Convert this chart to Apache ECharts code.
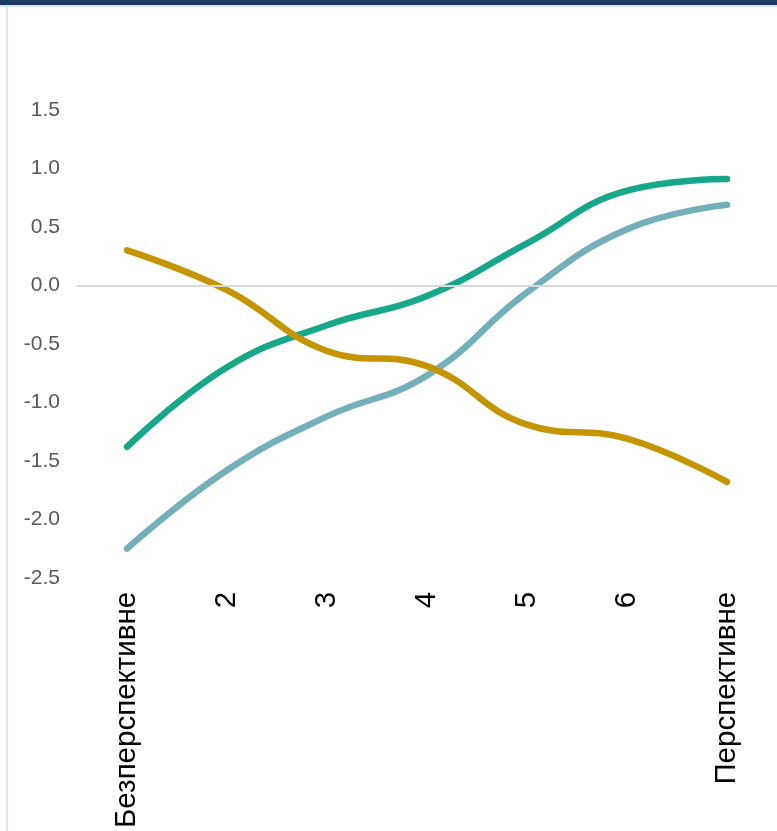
<!DOCTYPE html>
<html>
<head>
<meta charset="utf-8">
<script src="https://cdn.jsdelivr.net/npm/echarts@6/dist/echarts.min.js"></script>
<style>
  html, body { margin: 0; padding: 0; background: #fff; }
  #wrap { position: relative; width: 777px; height: 831px; overflow: hidden; }
  #topbar { position: absolute; left: 0; top: 0; width: 777px; height: 5px; background: #1f3864; border-bottom: 2px solid #d6e1f2; }
  #leftline { position: absolute; left: 6px; top: 7px; width: 2px; height: 824px; background: #dbe4f3; }
  #chart { position: absolute; left: 0; top: 0; width: 777px; height: 831px; }
</style>
</head>
<body>
<div id="wrap">
  <div id="chart"></div>
  <div id="topbar"></div>
  <div id="leftline"></div>
</div>
<script>
// категорії
const categories = ["Безперспективне", "2", "3", "4", "5", "6", "Перспективне"];

// значення рядів
const greenValues = [-1.38, -0.70, -0.34, -0.09, 0.36, 0.81, 0.91];
const tealValues = [-2.25, -1.58, -1.12, -0.77, -0.06, 0.48, 0.69];
const goldValues = [0.30, -0.04, -0.56, -0.69, -1.19, -1.31, -1.68];

const chart = echarts.init(document.getElementById("chart"));

function lineSeries(name, data, color) {
  return {
    name: name,
    type: "line",
    data: data,
    smooth: 0.45,
    symbol: "none",
    lineStyle: { width: 6.5, color: color, cap: "round", join: "round" },
    itemStyle: { color: color },
  };
}

const series = [
  lineSeries("green", greenValues, "#17a88c"),
  lineSeries("teal", tealValues, "#74b0b9"),
  lineSeries("gold", goldValues, "#c59500"),
];

// нульова лінія
series[0].markLine = {
  silent: true,
  symbol: "none",
  label: { show: false },
  lineStyle: { color: "#d9d9d9", width: 2, type: "solid" },
  data: [{ yAxis: 0 }],
};

chart.setOption({
  animation: false,
  grid: { left: 77, right: 0, top: 110, bottom: 253 },
  xAxis: {
    type: "category",
    data: categories,
    boundaryGap: true,
    axisLine: { show: false },
    axisTick: { show: false },
    axisLabel: {
      rotate: 90,
      margin: 14,
      fontSize: 29.5,
      color: "#000",
      fontFamily: "Liberation Sans, Arial, sans-serif",
      interval: 0,
    },
  },
  yAxis: {
    type: "value",
    min: -2.5,
    max: 1.5,
    interval: 0.5,
    axisLine: { show: false },
    axisTick: { show: false },
    splitLine: { show: false },
    axisLabel: {
      margin: 17,
      fontSize: 21,
      color: "#595959",
      fontFamily: "Liberation Sans, Arial, sans-serif",
      formatter: (v) => v.toFixed(1),
    },
  },
  series: series,
});
</script>
</body>
</html>
